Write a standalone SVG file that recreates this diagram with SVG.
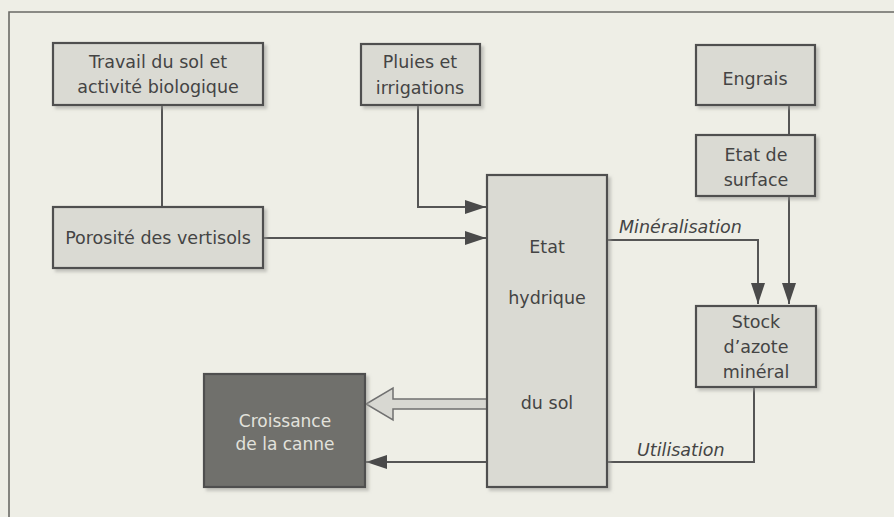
<svg xmlns="http://www.w3.org/2000/svg" width="894" height="517" viewBox="0 0 894 517">
<defs>
<style>
.box{fill:#dadad3;stroke:#4f4f4f;stroke-width:2.2}
.dark{fill:#6f6f6c;stroke:#4f4f4f;stroke-width:2.2}
.t{font-family:"DejaVu Sans","Liberation Sans",sans-serif;font-size:17.5px;fill:#444;text-anchor:middle}
.tw{font-family:"DejaVu Sans","Liberation Sans",sans-serif;font-size:17px;fill:#e2e2dc;text-anchor:middle}
.it{font-family:"DejaVu Sans","Liberation Sans",sans-serif;font-size:17.5px;font-style:italic;fill:#444}
.ln{fill:none;stroke:#555;stroke-width:2}
</style>
<filter id="sh" x="-10%" y="-10%" width="130%" height="130%">
<feDropShadow dx="3" dy="3" stdDeviation="1.5" flood-color="#9a9a94" flood-opacity="0.5"/>
</filter>
<marker id="ah" markerWidth="22" markerHeight="14" refX="21" refY="7" orient="auto" markerUnits="userSpaceOnUse">
<path d="M0,0 L21,7 L0,14 Z" fill="#4a4a4a"/>
</marker>
</defs>
<rect x="0" y="0" width="894" height="517" fill="#eeeee6"/>
<path d="M9,517 L9,12 L894,12" fill="none" stroke="#6a6a66" stroke-width="1.6"/>

<g id="connectors">
<path class="ln" d="M162,105 L162,207"/>
<path class="ln" d="M418,105 L418,207 L486,207" marker-end="url(#ah)"/>
<path class="ln" d="M263,238 L486,238" marker-end="url(#ah)"/>
<path class="ln" d="M789,105 L789,135"/>
<path class="ln" d="M789,196 L789,304" marker-end="url(#ah)"/>
<path class="ln" d="M607,240 L758,240 L758,304" marker-end="url(#ah)"/>
<path class="ln" d="M754,387 L754,462 L607,462"/>
<path class="ln" d="M487,462 L366,462" marker-end="url(#ah)"/>
<polygon points="487,399 393,399 393,388 366,404 393,420 393,409 487,409" fill="#d8d8d2" stroke="#707070" stroke-width="1.5"/>
<text class="it" x="619" y="233">Minéralisation</text>
<text class="it" x="637" y="456">Utilisation</text>
</g>

<g id="travail">
<rect class="box" filter="url(#sh)" x="53" y="43" width="210" height="62"/>
<text class="t" x="158" y="68">Travail du sol et</text>
<text class="t" x="158" y="93">activité biologique</text>
</g>
<g id="pluies">
<rect class="box" filter="url(#sh)" x="361" y="44" width="119" height="61"/>
<text class="t" x="420" y="68">Pluies et</text>
<text class="t" x="420" y="94">irrigations</text>
</g>
<g id="engrais">
<rect class="box" filter="url(#sh)" x="696" y="45" width="119" height="60"/>
<text class="t" x="755" y="85">Engrais</text>
</g>
<g id="surface">
<rect class="box" filter="url(#sh)" x="696" y="135" width="119" height="61"/>
<text class="t" x="756" y="161">Etat de</text>
<text class="t" x="756" y="186">surface</text>
</g>
<g id="porosite">
<rect class="box" filter="url(#sh)" x="53" y="207" width="210" height="61"/>
<text class="t" x="158" y="244">Porosité des vertisols</text>
</g>
<g id="hydrique">
<rect class="box" filter="url(#sh)" x="487" y="175" width="120" height="312"/>
<text class="t" x="547" y="253">Etat</text>
<text class="t" x="547" y="304">hydrique</text>
<text class="t" x="547" y="409">du sol</text>
</g>
<g id="stock">
<rect class="box" filter="url(#sh)" x="696" y="306" width="120" height="81"/>
<text class="t" x="756" y="328">Stock</text>
<text class="t" x="756" y="353">d’azote</text>
<text class="t" x="756" y="378">minéral</text>
</g>
<g id="croissance">
<rect class="dark" filter="url(#sh)" x="204" y="374" width="161" height="113"/>
<text class="tw" x="285" y="427">Croissance</text>
<text class="tw" x="285" y="450">de la canne</text>
</g>
</svg>
